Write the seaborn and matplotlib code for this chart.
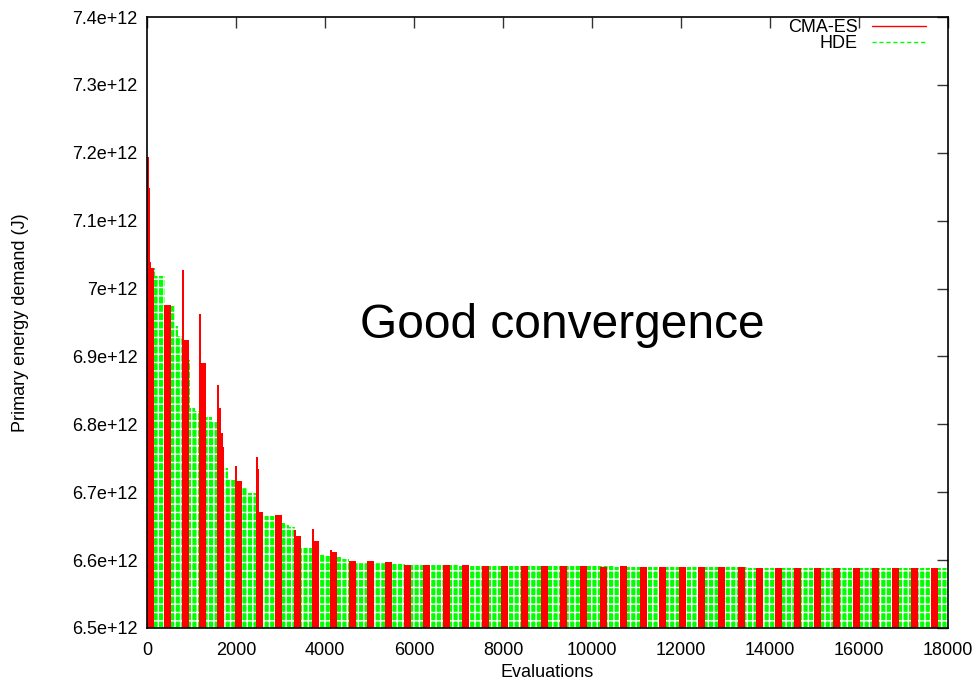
import numpy as np
import matplotlib
matplotlib.use("Agg")
import matplotlib.pyplot as plt
from matplotlib.lines import Line2D
from matplotlib.ticker import FuncFormatter
import seaborn as sns

# values (energy in units of 1e12 J)
BASE = 6.5

# CMA-ES: one block per generation (start evaluation, best value in block)
cma_x = [0, 382, 786, 1168, 1573, 1977, 2449, 2876, 3303, 3708, 4112, 4539,
         4943, 5348, 5775, 6202, 6651, 7078, 7527, 7954, 8404, 8853, 9280,
         9730, 10179, 10628, 11078, 11505, 11954, 12381, 12830, 13280, 13684,
         14111, 14538, 14987, 15414, 15864, 16291, 16740, 17167, 17616]
cma_y = [7.030, 6.976, 6.924, 6.890, 6.767, 6.716, 6.671, 6.667, 6.635, 6.628,
         6.612, 6.599, 6.599, 6.597, 6.593, 6.593, 6.593, 6.593, 6.591, 6.591,
         6.591, 6.591, 6.591, 6.591, 6.590, 6.591, 6.590, 6.590, 6.590, 6.590,
         6.590, 6.590, 6.589, 6.589, 6.589, 6.589, 6.589, 6.589, 6.588, 6.588,
         6.588, 6.588]
cma_block = 155

# CMA-ES: single worse evaluations sticking out above their block
spike_x = [0, 25, 50, 786, 1168, 1573, 1620, 1665, 1977, 2449, 2490, 3303, 3708, 4112]
spike_y = [7.194, 7.148, 7.039, 7.028, 6.962, 6.858, 6.824, 6.787, 6.739, 6.752,
           6.734, 6.644, 6.646, 6.615]
spike_w = 35

# HDE: best-so-far steps (evaluation where the value changes, value)
hde_x = [0, 180, 400, 629, 697, 800, 966, 1079, 1200, 1461, 1600, 1820, 2000,
         2270, 2450, 2900, 3101, 3191, 3320, 3720, 3977, 4130, 4382, 4550,
         5350, 5790, 7000, 8500, 10500, 13500]
hde_y = [7.030, 7.018, 6.974, 6.945, 6.930, 6.895, 6.824, 6.820, 6.811, 6.803,
         6.736, 6.718, 6.706, 6.699, 6.665, 6.655, 6.652, 6.649, 6.618, 6.609,
         6.606, 6.605, 6.602, 6.596, 6.594, 6.593, 6.592, 6.591, 6.590, 6.589]
X_END = 18000

sns.set_style("white")
plt.rcParams["font.family"] = ["Liberation Sans", "DejaVu Sans"]
plt.rcParams["hatch.linewidth"] = 1.0
plt.rcParams["text.color"] = "black"
plt.rcParams["axes.labelcolor"] = "black"
plt.rcParams["xtick.labelcolor"] = "black"
plt.rcParams["ytick.labelcolor"] = "black"

fig = plt.figure(figsize=(9.78, 6.82), dpi=100)
ax = fig.add_axes([147 / 978, 1 - 628 / 682, 801 / 978, 611 / 682])

# HDE as dashed green impulses -> hatched step fill
hx = np.array(hde_x + [X_END])
hy = np.array(hde_y + [hde_y[-1]]) * 1e12
ax.fill_between(hx, BASE * 1e12, hy, step="post", facecolor="#00ff00",
                edgecolor="white", linewidth=0, hatch="++|", zorder=1)

# CMA-ES red impulses
ax.bar(cma_x, (np.array(cma_y) - BASE) * 1e12, width=cma_block, bottom=BASE * 1e12,
       align="edge", color="#ff0000", linewidth=0, zorder=2)
ax.bar(spike_x, (np.array(spike_y) - BASE) * 1e12, width=spike_w, bottom=BASE * 1e12,
       align="edge", color="#ff0000", linewidth=0, zorder=2)

ax.set_xlim(0, X_END)
ax.set_ylim(6.5e12, 7.4e12)
ax.set_xticks(np.arange(0, 18001, 2000))
ax.set_yticks(np.arange(6.5, 7.41, 0.1) * 1e12)
ax.yaxis.set_major_formatter(FuncFormatter(lambda v, p: f"{round(v / 1e11) / 10:g}e+12"))

ax.tick_params(direction="in", length=8, width=1, color="#333333",
               top=True, right=True, labelsize=13, pad=7)
ax.tick_params(axis="x", pad=10)
for s in ax.spines.values():
    s.set_color("black")
    s.set_linewidth(1.2)

ax.set_xlabel("Evaluations", fontsize=13)
ax.set_ylabel("Primary energy demand (J)", fontsize=13)
ax.xaxis.set_label_coords(0.5, -0.059)
ax.yaxis.set_label_coords(-0.147, 0.5)

ax.text(9325, 6.946e12, "Good convergence", fontsize=34.5,
        ha="center", va="center", zorder=5)

handles = [Line2D([], [], color="#ff0000", lw=1),
           Line2D([], [], color="#00ff00", lw=1, ls=(0, (3, 2)))]
ax.legend(handles, ["CMA-ES", "HDE"], loc="upper right", frameon=False,
          bbox_to_anchor=(1 - 22 / 801, 1 - 2 / 611), markerfirst=False,
          fontsize=13, handlelength=3.0, handletextpad=0.8, labelspacing=-0.03,
          borderaxespad=0.0, borderpad=0.0)

fig.savefig("out.png", dpi=100)
